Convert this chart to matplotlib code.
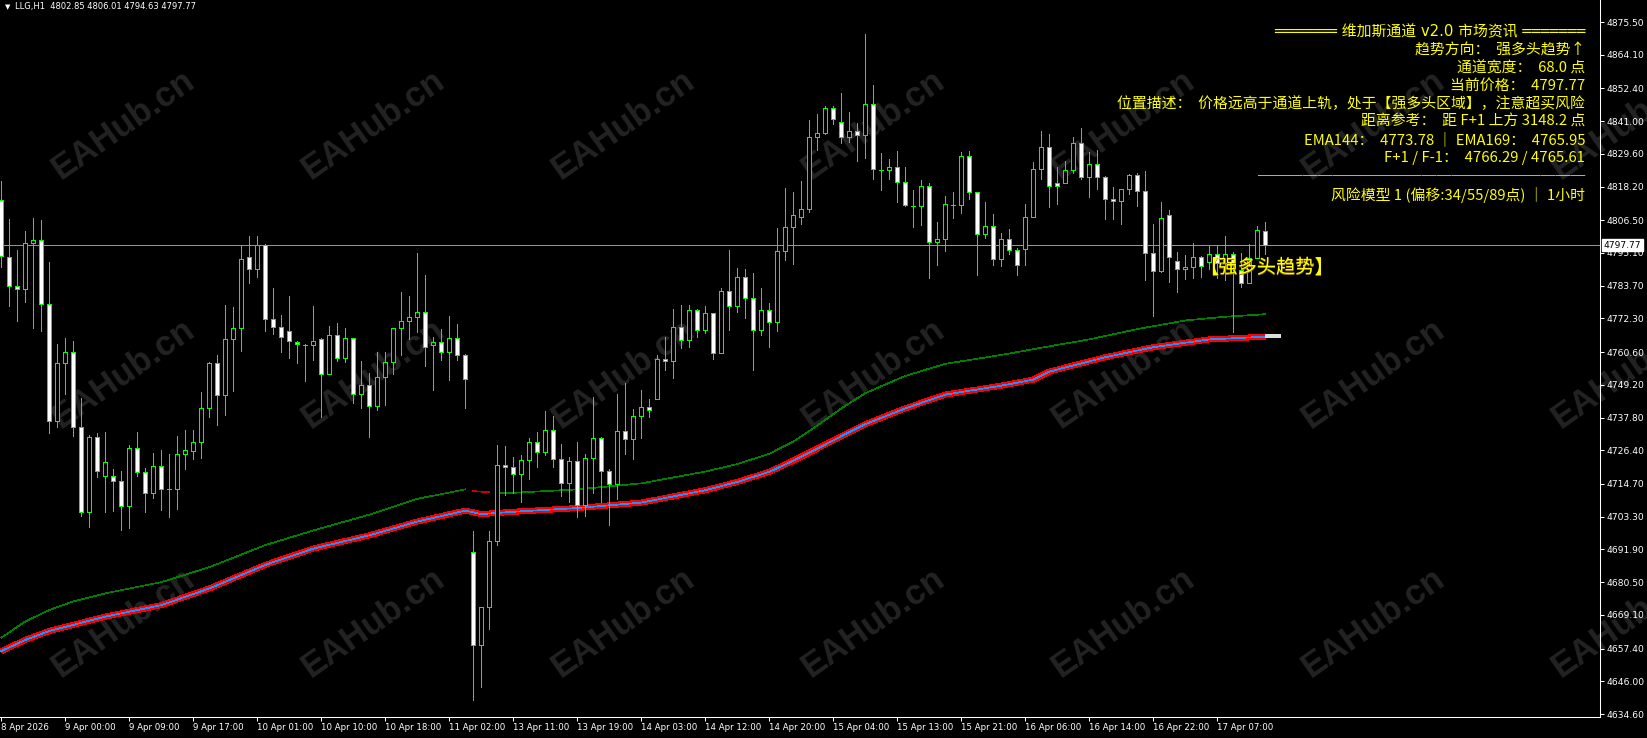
import matplotlib
matplotlib.use('Agg')
import matplotlib.pyplot as plt
from matplotlib.patches import Rectangle
import matplotlib.transforms as mtrans

# ---------------- data ----------------
symbol_title = "LLG,H1  4802.85 4806.01 4794.63 4797.77"

opens = [4813.5, 4793.8, 4783.5, 4782.4, 4798.5, 4799.5, 4777.2, 4736.5, 4756.7, 4760.5,
         4734.4, 4704.8, 4730.9, 4717.3, 4717.3, 4715.6, 4706.9, 4727.2, 4718.7, 4711.4,
         4720.8, 4712.8, 4712.8, 4725.0, 4726.2, 4729.2, 4741.0, 4756.7, 4745.5, 4765.0,
         4768.9, 4793.6, 4789.4, 4797.9, 4772.2, 4769.4, 4767.8, 4764.2, 4763.2, 4763.1,
         4765.0, 4752.8, 4766.4, 4758.4, 4765.4, 4745.9, 4749.0, 4741.7, 4751.8, 4757.0,
         4768.9, 4771.3, 4772.7, 4774.4, 4762.9, 4764.0, 4760.5, 4765.4, 4759.5, 4690.9,
         4658.5, 4671.7, 4695.0, 4721.2, 4720.5, 4718.0, 4722.9, 4729.2, 4725.7, 4733.4,
         4723.3, 4714.9, 4722.6, 4707.4, 4723.6, 4730.6, 4719.1, 4714.6, 4733.0, 4730.2,
         4738.2, 4741.4, 4744.1, 4758.1, 4757.4, 4769.2, 4764.7, 4775.1, 4768.2, 4774.1,
         4760.2, 4781.8, 4776.5, 4786.9, 4779.3, 4768.2, 4775.1, 4771.0, 4795.7, 4804.0,
         4807.5, 4810.3, 4835.4, 4836.7, 4845.5, 4840.6, 4835.4, 4837.4, 4836.1, 4846.8,
         4824.1, 4823.9, 4824.9, 4819.7, 4811.6, 4811.3, 4818.3, 4798.8, 4799.8, 4811.8,
         4811.8, 4828.7, 4816.2, 4801.6, 4804.4, 4792.9, 4799.8, 4796.0, 4796.4, 4807.5,
         4824.2, 4831.9, 4819.3, 4819.3, 4823.9, 4833.3, 4821.4, 4826.0, 4821.4, 4813.8,
         4813.1, 4817.3, 4822.1, 4816.6, 4795.0, 4788.7, 4808.2, 4792.2, 4789.4, 4790.1,
         4793.6, 4792.0, 4794.6, 4791.5, 4794.6, 4789.2, 4784.8, 4793.2, 4802.85]
highs = [4820.2, 4806.9, 4796.1, 4802.7, 4807.3, 4806.6, 4791.9, 4763.4, 4765.5, 4764.5,
         4744.5, 4731.6, 4732.3, 4732.8, 4719.9, 4719.2, 4728.1, 4732.8, 4720.1, 4725.5,
         4726.5, 4725.1, 4731.4, 4733.5, 4733.5, 4746.8, 4757.3, 4759.6, 4777.0, 4776.4,
         4797.5, 4801.0, 4801.0, 4798.2, 4782.9, 4773.4, 4780.1, 4764.4, 4763.4, 4776.6,
         4765.4, 4769.7, 4770.6, 4768.9, 4765.6, 4757.4, 4753.2, 4760.6, 4760.6, 4769.0,
         4781.5, 4780.1, 4795.1, 4787.4, 4765.9, 4768.5, 4773.0, 4770.2, 4759.8, 4698.3,
         4671.7, 4698.3, 4728.2, 4727.9, 4724.0, 4724.6, 4730.7, 4732.7, 4740.0, 4738.2,
         4728.5, 4724.1, 4729.3, 4725.1, 4744.8, 4730.9, 4719.9, 4745.9, 4749.7, 4740.7,
         4747.3, 4744.1, 4759.5, 4765.7, 4775.5, 4776.9, 4776.9, 4775.5, 4776.5, 4774.3,
         4782.9, 4796.0, 4789.7, 4789.4, 4788.0, 4783.0, 4777.6, 4803.8, 4817.7, 4816.3,
         4820.2, 4841.3, 4843.4, 4846.1, 4846.1, 4850.7, 4844.1, 4840.2, 4871.2, 4853.5,
         4829.9, 4827.7, 4830.5, 4824.9, 4816.9, 4820.4, 4819.3, 4805.8, 4814.8, 4816.2,
         4830.1, 4830.5, 4816.4, 4812.7, 4808.6, 4801.9, 4803.3, 4796.7, 4812.1, 4826.8,
         4837.4, 4836.5, 4824.9, 4827.0, 4835.4, 4838.5, 4830.1, 4830.8, 4821.8, 4817.9,
         4817.3, 4822.5, 4822.8, 4823.6, 4805.1, 4812.7, 4809.9, 4795.3, 4794.3, 4798.5,
         4794.2, 4797.8, 4797.8, 4801.0, 4795.5, 4795.0, 4798.2, 4804.5, 4806.01]
lows = [4790.3, 4776.8, 4771.5, 4778.1, 4769.1, 4768.1, 4732.3, 4734.6, 4746.0, 4731.5,
        4703.6, 4699.8, 4717.0, 4704.8, 4705.4, 4698.6, 4699.5, 4717.5, 4705.0, 4709.7,
        4705.6, 4703.3, 4705.8, 4719.8, 4723.3, 4723.6, 4738.1, 4735.2, 4738.7, 4747.2,
        4761.1, 4784.5, 4786.8, 4768.0, 4766.9, 4760.7, 4758.6, 4756.9, 4750.6, 4757.8,
        4738.1, 4752.8, 4757.6, 4757.2, 4743.0, 4741.2, 4731.1, 4740.5, 4742.3, 4753.0,
        4759.6, 4765.3, 4767.7, 4755.9, 4747.4, 4757.8, 4750.9, 4757.8, 4741.2, 4639.5,
        4644.1, 4664.3, 4693.4, 4710.8, 4711.5, 4708.4, 4716.3, 4720.7, 4724.6, 4720.5,
        4710.6, 4708.3, 4703.3, 4703.6, 4711.4, 4708.3, 4700.3, 4709.4, 4725.2, 4723.3,
        4730.6, 4738.1, 4744.1, 4754.5, 4751.7, 4761.9, 4762.2, 4765.7, 4767.1, 4758.1,
        4760.2, 4768.2, 4774.4, 4772.3, 4754.2, 4766.7, 4762.5, 4768.0, 4792.7, 4791.4,
        4805.1, 4809.5, 4831.1, 4836.4, 4839.9, 4833.3, 4833.8, 4827.2, 4828.3, 4820.7,
        4817.1, 4820.7, 4812.7, 4811.3, 4804.3, 4804.9, 4786.5, 4791.0, 4795.9, 4807.2,
        4808.9, 4813.8, 4787.3, 4800.2, 4790.8, 4790.5, 4794.6, 4787.3, 4791.0, 4807.5,
        4821.0, 4811.2, 4812.3, 4819.3, 4822.8, 4820.7, 4814.7, 4817.3, 4806.8, 4806.8,
        4805.1, 4815.5, 4811.3, 4785.6, 4773.0, 4788.4, 4785.1, 4781.4, 4785.9, 4786.3,
        4786.6, 4789.5, 4786.3, 4785.7, 4767.7, 4783.4, 4784.8, 4793.2, 4794.63]
closes = [4794.0, 4783.5, 4782.4, 4798.5, 4799.5, 4777.2, 4736.5, 4756.7, 4760.5, 4734.4,
          4704.8, 4730.9, 4719.1, 4722.2, 4715.6, 4706.9, 4727.2, 4718.7, 4711.4, 4720.8,
          4712.8, 4712.8, 4725.0, 4726.4, 4729.2, 4741.0, 4756.7, 4745.5, 4765.0, 4768.9,
          4792.9, 4789.4, 4797.8, 4772.2, 4769.4, 4765.7, 4764.3, 4763.3, 4763.2, 4764.6,
          4752.8, 4766.4, 4758.4, 4765.4, 4745.9, 4749.0, 4741.7, 4751.8, 4757.0, 4768.9,
          4771.3, 4772.7, 4774.4, 4762.2, 4764.0, 4760.5, 4765.4, 4759.5, 4751.1, 4658.5,
          4671.7, 4695.0, 4721.2, 4720.5, 4718.0, 4722.9, 4729.2, 4725.7, 4733.4, 4723.3,
          4714.9, 4722.6, 4707.4, 4723.6, 4730.6, 4719.1, 4714.6, 4733.0, 4730.2, 4738.2,
          4741.4, 4740.3, 4758.1, 4757.4, 4769.2, 4764.7, 4775.1, 4768.2, 4774.1, 4760.2,
          4781.8, 4776.5, 4786.9, 4779.3, 4768.2, 4775.1, 4771.0, 4795.7, 4804.0, 4808.2,
          4810.3, 4835.4, 4836.7, 4845.5, 4841.6, 4835.4, 4837.4, 4836.1, 4846.8, 4824.2,
          4824.1, 4824.9, 4819.7, 4811.7, 4811.6, 4818.3, 4798.8, 4799.8, 4812.0, 4811.8,
          4828.7, 4816.2, 4801.6, 4804.4, 4792.9, 4799.8, 4796.0, 4790.8, 4807.5, 4824.2,
          4831.9, 4818.3, 4818.3, 4823.9, 4833.3, 4821.4, 4826.0, 4821.4, 4813.8, 4813.1,
          4817.3, 4822.1, 4816.6, 4795.0, 4788.7, 4807.2, 4793.7, 4789.4, 4790.1, 4793.6,
          4790.4, 4794.6, 4791.5, 4794.6, 4790.9, 4784.8, 4793.2, 4803.1, 4797.77]

# EMA144 (green); two pieces around the weekend gap
ema144_bars_a = [0, 3, 6, 9, 13, 20, 26, 33, 39, 46, 52, 58]
ema144_vals_a = [4661.2, 4666.8, 4670.8, 4673.8, 4676.6, 4680.5, 4685.7, 4693.4, 4698.5,
                 4704.0, 4709.5, 4712.8]
ema144_gap_bars = [59, 61]
ema144_gap_vals = [4712.2, 4711.8]
ema144_bars_b = [62, 64, 72, 80, 88, 92, 96, 99, 102, 105, 108, 113, 118, 125, 131, 136,
                 142, 148, 153, 158]
ema144_vals_b = [4711.6, 4711.6, 4712.8, 4714.9, 4719.0, 4721.6, 4725.2, 4729.4, 4735.0,
                 4741.0, 4746.3, 4752.3, 4756.5, 4759.6, 4762.6, 4765.0, 4768.6, 4771.6,
                 4772.9, 4773.78]

# EMA169 / F band (red with blue centre)
ema169_bars = [0, 3, 6, 13, 20, 26, 33, 39, 46, 52, 58, 60, 64, 72, 80, 88, 92, 96, 99,
               102, 105, 108, 113, 118, 125, 129, 131, 138, 144, 151, 158]
ema169_vals = [4656.5, 4660.4, 4663.5, 4668.5, 4672.5, 4678.3, 4686.5, 4692.2, 4696.8,
               4701.6, 4705.4, 4704.2, 4705.0, 4706.3, 4708.2, 4712.5, 4715.4, 4718.9,
               4722.8, 4727.0, 4731.3, 4735.5, 4741.0, 4745.8, 4748.9, 4751.0, 4753.8,
               4758.8, 4762.3, 4765.0, 4765.95]
proj_bars = [158, 160]
proj_vals = [4766.3, 4766.3]

bid_price = 4797.77

price_ticks = [4875.50, 4864.10, 4852.40, 4841.00, 4829.60, 4818.20, 4806.50, 4795.10,
               4783.70, 4772.30, 4760.60, 4749.20, 4737.80, 4726.40, 4714.70, 4703.30,
               4691.90, 4680.50, 4669.10, 4657.40, 4646.00, 4634.60]
time_labels = ["8 Apr 2026", "9 Apr 00:00", "9 Apr 09:00", "9 Apr 17:00", "10 Apr 01:00",
               "10 Apr 10:00", "10 Apr 18:00", "11 Apr 02:00", "13 Apr 11:00", "13 Apr 19:00",
               "14 Apr 03:00", "14 Apr 12:00", "14 Apr 20:00", "15 Apr 04:00", "15 Apr 13:00",
               "15 Apr 21:00", "16 Apr 06:00", "16 Apr 14:00", "16 Apr 22:00", "17 Apr 07:00"]
time_label_bars = [8 * k for k in range(len(time_labels))]

panel_title = "═══════ 维加斯通道 v2.0 市场资讯 ═══════"
panel_lines = [
    "趋势方向：  强多头趋势↑",
    "通道宽度：  68.0 点",
    "当前价格：  4797.77",
    "位置描述：  价格远高于通道上轨，处于【强多头区域】，注意超买风险",
    "距离参考：  距 F+1 上方 3148.2 点",
    "EMA144：  4773.78 ｜ EMA169：  4765.95",
    "F+1 / F-1：  4766.29 / 4765.61",
    "──────────────────────",
    "风险模型 1 (偏移:34/55/89点) ｜ 1小时",
]
trend_label = "【强多头趋势】"
trend_label_price = 4790.0
watermark = "EAHub.cn"

# ---------------- layout ----------------
W, H = 1647, 738
AX_R, AX_B = 1600, 717
Y_TOP, PPX = 4883.16, 0.34812
CJK = ['Noto Sans CJK SC', 'DejaVu Sans']
LW1 = 0.5  # one device pixel, aliased

fig = plt.figure(figsize=(W / 100, H / 100), dpi=100, facecolor='black')
ax = fig.add_axes([0, 1 - AX_B / H, AX_R / W, AX_B / H])
ax.set_facecolor('black')
ax.set_ylim(Y_TOP - PPX * AX_B, Y_TOP)
ax.set_xlim((0 - 1.3) / 8, (AX_R - 1.3) / 8)


def fx(px):
    return px / W


def fy(py):
    return 1 - py / H


# watermarks (behind everything)
for r in range(3):
    for c in range(7):
        ax.text(fx(123 + 250 * c), fy(125 + 249 * r), watermark, transform=fig.transFigure,
                rotation=35, rotation_mode='anchor', ha='center', va='center',
                fontsize=25, fontweight='bold', family='Liberation Sans',
                color='#232323', zorder=0.5, clip_on=False)

LIME = '#00FF00'
# wicks
xs = list(range(len(opens)))
ax.vlines(xs, lows, highs, color=LIME, lw=LW1, antialiased=False, zorder=3)
# bodies
for i, (o, c) in enumerate(zip(opens, closes)):
    bear = c < o
    ax.add_patch(Rectangle((i - 0.27, min(o, c)), 0.54, abs(c - o),
                           facecolor='white' if bear else 'black',
                           edgecolor=LIME, lw=LW1, antialiased=False, zorder=4))

# moving averages
ax.plot(ema144_bars_a, ema144_vals_a, color='#008000', lw=LW1, antialiased=False, zorder=2)
ax.plot(ema144_gap_bars, ema144_gap_vals, color='#CC0000', lw=LW1, antialiased=False, zorder=2)
ax.plot(ema144_bars_b, ema144_vals_b, color='#008000', lw=LW1, antialiased=False, zorder=2)
ax.plot(ema169_bars, ema169_vals, color='#FF0000', lw=3.6, antialiased=False, zorder=2,
        solid_capstyle='butt')
ax.plot(ema169_bars, ema169_vals, color='#1E90FF', lw=LW1, antialiased=False, zorder=2.1)
ax.plot(proj_bars, proj_vals, color='#DDDDDD', lw=1.5, antialiased=False, zorder=2.1,
        solid_capstyle='butt')

# bid line
ax.axhline(bid_price, color='#8A96A3', lw=LW1, antialiased=False, zorder=1.5)

# axes styling
for s in ['top', 'left']:
    ax.spines[s].set_visible(False)
for s in ['right', 'bottom']:
    ax.spines[s].set_color('white')
    ax.spines[s].set_linewidth(0.75)
ax.yaxis.tick_right()
ax.set_yticks(price_ticks)
ax.set_yticklabels([f"{p:.2f}" for p in price_ticks])
ax.set_xticks(time_label_bars)
ax.set_xticklabels(time_labels)
for lab in ax.get_xticklabels():
    lab.set_ha('left')
ax.tick_params(axis='y', colors='white', length=3, width=0.75, pad=2, labelsize=6.6)
ax.tick_params(axis='x', colors='white', length=3, width=0.75, pad=1.5, labelsize=6.2)

# bid price box
bt = mtrans.blended_transform_factory(ax.transAxes, ax.transData)
ax.text(1.0025, bid_price, f"{bid_price:.2f}", transform=bt, ha='left', va='center',
        fontsize=6.6, color='black', zorder=10, clip_on=False,
        bbox=dict(boxstyle='square,pad=0.18', fc='white', ec='white'))

# top-left symbol line
fig.text(fx(5), fy(7), "▼", fontsize=5, color='white', ha='left', va='center')
fig.text(fx(15), fy(7), symbol_title, fontsize=6.0, color='white', ha='left', va='center')

# info panel
fig.text(fx(1585), fy(32), panel_title, family=['DejaVu Sans', 'Noto Sans CJK SC'],
         fontsize=10.7, color='#FFFF00', ha='right', va='center')
panel_y = [50, 68, 86, 104, 122, 140, 158, 176, 195]
for txt, py in zip(panel_lines, panel_y):
    fig.text(fx(1585), fy(py), txt, family=CJK, fontsize=10.7, color='#FFFF00',
             ha='right', va='center')

# trend label near the last bar
ax.text(158.2, trend_label_price - 0.35, trend_label, family=CJK, fontsize=13.9,
        color='#A07800', ha='center', va='center', zorder=6)
ax.text(158.1, trend_label_price, trend_label, family=CJK, fontsize=13.9, color='#FFFF00',
        ha='center', va='center', zorder=6.1)

fig.savefig('out.png', dpi=100, facecolor='black')
